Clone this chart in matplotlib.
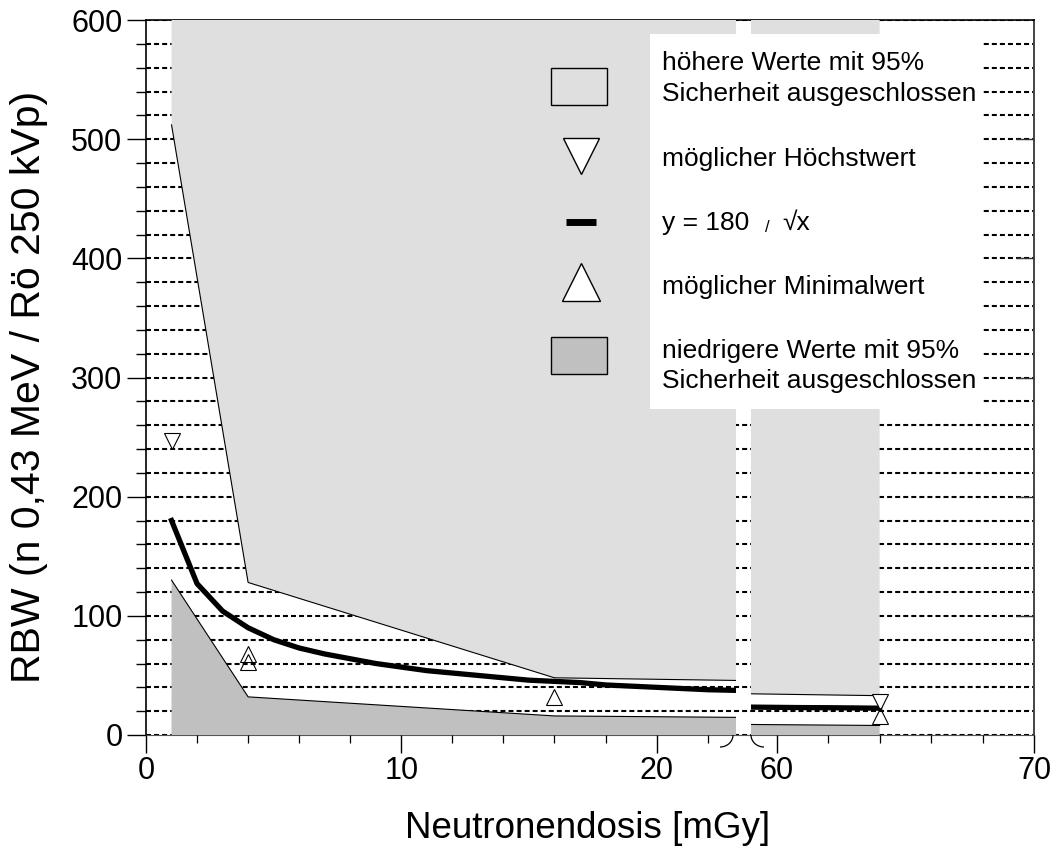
import matplotlib
matplotlib.use('Agg')
import matplotlib.pyplot as plt
from matplotlib.patches import Rectangle, Arc
from matplotlib.lines import Line2D
from matplotlib.ticker import MultipleLocator

plt.rcParams['font.family'] = ['Liberation Sans', 'DejaVu Sans']
plt.rcParams['lines.scale_dashes'] = False

# ---------------- data ----------------
dose_bounds = [1, 4, 16, 64]
upper_excluded = [512, 128, 48, 33]      # above: higher values excluded (95 %)
lower_excluded = [130, 32, 16, 8]        # below: lower values excluded (95 %)

curve_dose = [1, 2, 3, 4, 5, 6, 7, 8, 9, 10, 11, 12, 13, 14, 15, 16, 17, 18,
              19, 20, 21, 22, 23, 59, 60, 61, 62, 63, 64]
curve_rbw = [180, 127, 104, 90, 80, 73, 68, 64, 60, 57, 54, 52, 50, 48, 46,
             45, 44, 42, 41, 40, 39, 38, 37.5, 23.4, 23.2, 23.0, 22.9, 22.7, 22.5]

max_dose = [1, 64]
max_rbw = [247, 28]
min_dose = [4, 4, 16, 64]
min_rbw = [68, 61, 32, 16]

left_xticks = [0, 10, 20]
right_xticks = [60, 70]
y_ticks = [0, 100, 200, 300, 400, 500, 600]

legend_labels = ["höhere Werte mit 95%", "Sicherheit ausgeschlossen",
                 "möglicher Höchstwert", "y = 180", "/", "√x",
                 "möglicher Minimalwert",
                 "niedrigere Werte mit 95%", "Sicherheit ausgeschlossen"]
x_label = "Neutronendosis [mGy]"
y_label = "RBW (n 0,43 MeV / Rö 250 kVp)"

LIGHT = '#dfdfdf'
DARK = '#c0c0c0'

# ---------------- layout ----------------
W, H = 1054, 850
fig = plt.figure(figsize=(W / 100, H / 100), dpi=100)


def box(x0, x1, y0=20, y1=735):
    return [x0 / W, 1 - y1 / H, (x1 - x0) / W, (y1 - y0) / H]


def fx(px):
    return px / W


def fy(py):
    return 1 - py / H


# background axes: frame, y axis, dashed grid
ax_bg = fig.add_axes(box(146, 1034))
ax_bg.set_xlim(0, 1)
ax_bg.set_ylim(0, 600)
ax_bg.set_xticks([])
ax_bg.set_yticks(y_ticks)
ax_bg.yaxis.set_minor_locator(MultipleLocator(20))
ax_bg.grid(True, which='both', axis='y', color='black', lw=1.5,
           linestyle=(0, (3.6, 2.2)))
ax_bg.set_axisbelow(True)
ax_bg.tick_params(axis='y', which='major', direction='out', length=14,
                  width=1, labelsize=22, pad=3, colors='black')
ax_bg.tick_params(axis='y', which='minor', direction='out', length=7, width=1)
for side in ['left', 'top']:
    ax_bg.spines[side].set_linewidth(1.2)
    ax_bg.spines[side].set_color('black')
ax_bg.spines['right'].set_linewidth(1.4)
ax_bg.spines['right'].set_color('#444444')
ax_bg.spines['bottom'].set_linewidth(0.8)
ax_bg.spines['bottom'].set_color('#555555')

ax_rt = ax_bg.twinx()
ax_rt.set_ylim(0, 600)
ax_rt.set_yticks(y_ticks[1:-1])
ax_rt.tick_params(axis='y', direction='in', length=13, width=1,
                  labelright=False, color='#333333')
for s in ax_rt.spines.values():
    s.set_visible(False)

# two panels of the broken x axis
ax_l = fig.add_axes(box(146, 735.7))
ax_r = fig.add_axes(box(751, 1034))
for ax, lim, ticks in [(ax_l, (0, 23.1), left_xticks),
                       (ax_r, (59, 70), right_xticks)]:
    ax.set_zorder(1)
    ax.set_xlim(*lim)
    ax.set_ylim(0, 600)
    ax.patch.set_visible(False)
    for s in ax.spines.values():
        s.set_visible(False)
    ax.set_yticks([])
    ax.set_xticks(ticks)
    ax.xaxis.set_minor_locator(MultipleLocator(2))
    ax.tick_params(axis='x', which='major', direction='out', length=13,
                   width=1, labelsize=22, pad=2)
    ax.tick_params(axis='x', which='minor', direction='out', length=5.5,
                   width=0.9)

    ax.fill_between(dose_bounds, upper_excluded, 600, color=LIGHT, lw=0)
    ax.plot(dose_bounds, upper_excluded, color='black', lw=0.8)
    ax.fill_between(dose_bounds, 0, lower_excluded, color=DARK, lw=0)
    ax.plot(dose_bounds, lower_excluded, color='black', lw=0.8)
    ax.plot(curve_dose, curve_rbw, color='black', lw=3.8)
    ax.plot(max_dose, max_rbw, ls='none', marker='v', ms=11.5, mfc='white',
            mec='black', mew=0.8)
    ax.plot(min_dose, min_rbw, ls='none', marker='^', ms=11.5, mfc='none',
            mec='black', mew=0.8)

# axis break marks (quarter arcs below the axis)
fig.add_artist(Arc((fx(720), fy(735)), 26 / W, 24 / H, theta1=-90, theta2=0,
                   transform=fig.transFigure, color='black', lw=0.9,
                   zorder=9))
fig.add_artist(Arc((fx(764), fy(735)), 26 / W, 24 / H, theta1=180,
                   theta2=270, transform=fig.transFigure, color='black',
                   lw=0.9, zorder=9))

# axis labels
fig.text(fx(588), fy(838), x_label, fontsize=26.5, ha='center', va='baseline')
fig.text(fx(29), fy(387), y_label, fontsize=29.5, rotation=90,
         ha='center', va='center')

# ---------------- legend ----------------
fig.add_artist(Rectangle((fx(650), fy(409)), 333 / W, 375 / H,
                         transform=fig.transFigure, fc='white', ec='none',
                         zorder=10))
fig.add_artist(Rectangle((fx(551), fy(105)), 56 / W, 37 / H,
                         transform=fig.transFigure, fc=LIGHT, ec='black',
                         lw=1, zorder=11))
fig.add_artist(Rectangle((fx(551), fy(374)), 56 / W, 37 / H,
                         transform=fig.transFigure, fc=DARK, ec='black',
                         lw=1, zorder=11))
fig.add_artist(Line2D([fx(581)], [fy(156)], transform=fig.transFigure,
                      ls='none', marker='v', ms=26, mfc='white', mec='black',
                      mew=1, zorder=11))
fig.add_artist(Line2D([fx(566), fx(596)], [fy(222), fy(222)],
                      transform=fig.transFigure, color='black', lw=5,
                      solid_capstyle='butt', zorder=11))
fig.add_artist(Line2D([fx(581)], [fy(282)], transform=fig.transFigure,
                      ls='none', marker='^', ms=27, mfc='white', mec='black',
                      mew=1, zorder=11))

fs = 19
txt = dict(fontsize=fs, ha='left', va='baseline', zorder=12)
fig.text(fx(662), fy(70), legend_labels[0], **txt)
fig.text(fx(662), fy(101), legend_labels[1], **txt)
fig.text(fx(662), fy(166), legend_labels[2], **txt)
fig.text(fx(662), fy(230), legend_labels[3], **txt)
fig.text(fx(765), fy(232), legend_labels[4], fontsize=12, ha='left',
         va='baseline', zorder=12)
fig.text(fx(782), fy(230), legend_labels[5], **txt)
fig.text(fx(662), fy(294), legend_labels[6], **txt)
fig.text(fx(662), fy(358), legend_labels[7], **txt)
fig.text(fx(662), fy(388), legend_labels[8], **txt)

fig.savefig('out.png', dpi=100)
